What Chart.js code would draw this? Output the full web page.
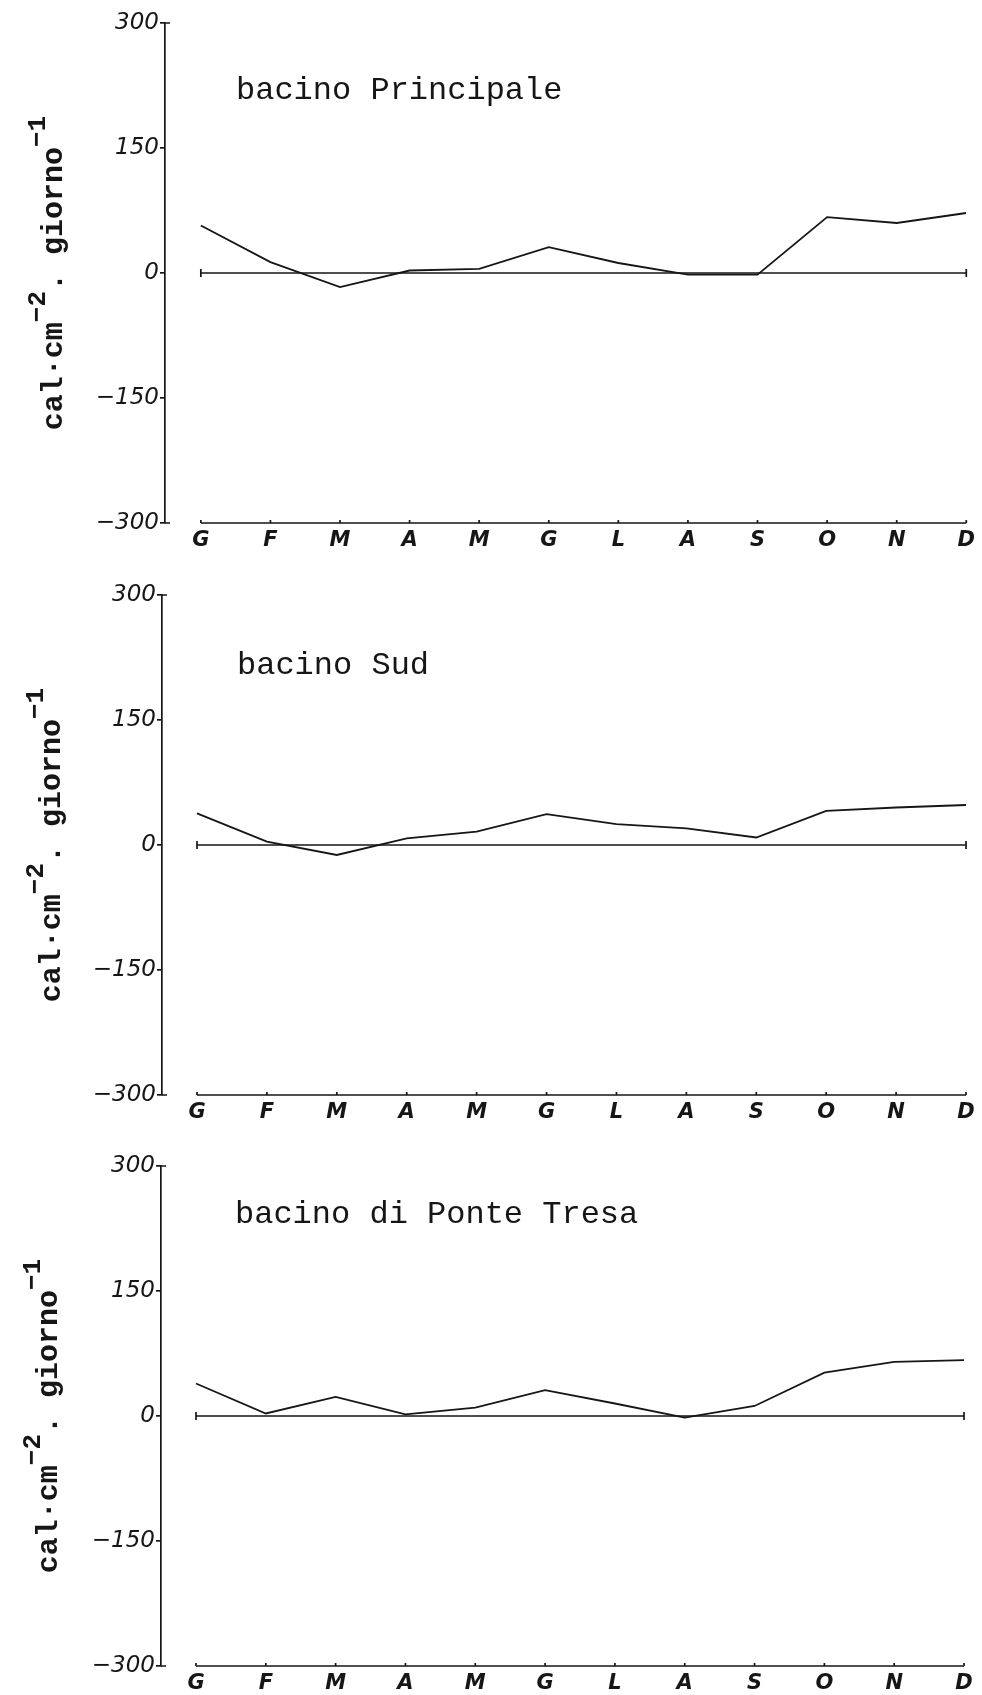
<!DOCTYPE html>
<html>
<head>
<meta charset="utf-8">
<script src="https://cdn.jsdelivr.net/npm/chart.js@4.4.0/dist/chart.umd.min.js"></script>
<style>
  html, body { margin: 0; padding: 0; background: #fff; overflow: hidden; }
  body { width: 982px; height: 1695px; position: relative; }
  canvas { position: absolute; left: 0; }
</style>
</head>
<body>
<canvas id="c1" width="982" height="560" style="top:0px"></canvas>
<canvas id="c2" width="982" height="560" style="top:572px"></canvas>
<canvas id="c3" width="982" height="560" style="top:1143px"></canvas>
<script>
"use strict";
// data (cal cm-2 day-1)
const months = ["G", "F", "M", "A", "M", "G", "L", "A", "S", "O", "N", "D"];
const yTicks = [-300, -150, 0, 150, 300];
const principale = [57, 13, -17, 3, 5, 31, 12, -2, -2, 67, 60, 72];
const sud = [38, 4, -12, 8, 16, 37, 25, 20, 9, 41, 45, 48];
const ponteTresa = [39, 3, 23, 2, 10, 31, 15, -2, 12, 52, 65, 67];
const titles = ["bacino Principale", "bacino Sud", "bacino di Ponte Tresa"];

const ink = "#161616";

// layout of each panel (pixels inside its canvas)
const panels = [
    { id: "c1", values: principale, title: titles[0], axisX: 165, g: 201, right: 970, titleX: 236, titleY: 99, labelX: 62 },
    { id: "c2", values: sud, title: titles[1], axisX: 162, g: 197, right: 966, titleX: 237, titleY: 102, labelX: 60 },
    { id: "c3", values: ponteTresa, title: titles[2], axisX: 161, g: 196, right: 964, titleX: 235, titleY: 80, labelX: 57 }
];

// zero line, bottom month axis, panel title, y-axis title
const decor = {
    id: "decor",
    afterDatasetsDraw(chart, args, opts) {
        const { ctx, chartArea, scales: { x, y } } = chart;
        const xa = x.getPixelForValue(0);
        const xb = x.getPixelForValue(months.length - 1);
        const y0 = y.getPixelForValue(0);
        const yb = y.getPixelForValue(yTicks[0]);
        const yt = y.getPixelForValue(yTicks[yTicks.length - 1]);
        ctx.save();
        ctx.strokeStyle = ink;
        ctx.lineWidth = 1.7;
        ctx.beginPath();
        ctx.moveTo(xa, y0); ctx.lineTo(xb, y0);
        ctx.moveTo(xa, y0 - 4); ctx.lineTo(xa, y0 + 4);
        ctx.moveTo(xb, y0 - 4); ctx.lineTo(xb, y0 + 4);
        ctx.stroke();

        ctx.beginPath();
        ctx.moveTo(xa, yb); ctx.lineTo(xb, yb);
        months.forEach((m, i) => {
            const px = x.getPixelForValue(i);
            ctx.moveTo(px, yb); ctx.lineTo(px, yb - 3);
        });
        // little corner ticks of the y axis
        ctx.moveTo(chartArea.left, yt); ctx.lineTo(chartArea.left + 5, yt);
        ctx.moveTo(chartArea.left, yb); ctx.lineTo(chartArea.left + 5, yb);
        ctx.stroke();

        ctx.fillStyle = ink;
        ctx.textBaseline = "alphabetic";
        ctx.textAlign = "left";
        ctx.font = '32px "Liberation Mono", monospace';
        ctx.fillText(opts.title, opts.titleX, opts.titleY);

        // rotated unit label with superscripts
        const parts = [
            { t: "cal\u00B7cm", sup: false },
            { t: "\u22122", sup: true },
            { t: ".", sup: false },
            { t: " giorno", sup: false },
            { t: "\u22121", sup: true }
        ];
        const mainFont = 'bold 30px "Liberation Mono", monospace';
        const supFont = 'bold 26px "Liberation Mono", monospace';
        let total = 0;
        parts.forEach(p => {
            ctx.font = p.sup ? supFont : mainFont;
            p.w = ctx.measureText(p.t).width;
            total += p.w;
        });
        ctx.translate(opts.labelX, (chartArea.top + chartArea.bottom) / 2);
        ctx.rotate(-Math.PI / 2);
        let cx = -total / 2;
        parts.forEach(p => {
            ctx.font = p.sup ? supFont : mainFont;
            ctx.fillText(p.t, cx, p.sup ? -17 : 0);
            cx += p.w;
        });
        ctx.restore();
    }
};

panels.forEach(p => {
    const unit = (p.right - p.g) / (months.length - 1);
    const xMin = -(p.g - p.axisX) / unit;
    new Chart(document.getElementById(p.id), {
        type: "line",
        data: {
            datasets: [{
                data: p.values.map((v, i) => ({ x: i, y: v })),
                borderColor: ink,
                borderWidth: 1.8,
                pointRadius: 0,
                tension: 0,
                fill: false
            }]
        },
        options: {
            responsive: false,
            animation: false,
            devicePixelRatio: 1,
            layout: { padding: { left: 0, right: 982 - p.right, top: 23, bottom: 0 } },
            plugins: {
                legend: { display: false },
                tooltip: { enabled: false },
                decor: { title: p.title, titleX: p.titleX, titleY: p.titleY, labelX: p.labelX }
            },
            scales: {
                x: {
                    type: "linear",
                    min: xMin,
                    max: months.length - 1,
                    grid: { display: false, drawTicks: false, tickLength: 0 },
                    border: { display: false },
                    afterBuildTicks: s => { s.ticks = months.map((m, i) => ({ value: i })); },
                    afterFit: s => { s.height = 37; },
                    ticks: {
                        autoSkip: false,
                        maxRotation: 0,
                        maxTicksLimit: 30,
                        padding: 7,
                        color: ink,
                        font: { family: "DejaVu Sans", style: "italic", weight: "bold", size: 21, lineHeight: 1 },
                        callback: v => months[v] ?? ""
                    }
                },
                y: {
                    min: yTicks[0],
                    max: yTicks[yTicks.length - 1],
                    afterBuildTicks: s => { s.ticks = yTicks.map(v => ({ value: v })); },
                    afterFit: s => { s.width = p.axisX; },
                    grid: { drawOnChartArea: false, tickLength: 5, color: ink, lineWidth: 1.7 },
                    border: { color: ink, width: 1.7 },
                    ticks: {
                        padding: 1,
                        color: ink,
                        font: { family: "DejaVu Sans", style: "italic", size: 23 },
                        callback: v => v < 0 ? "\u2212" + Math.abs(v) : String(v)
                    }
                }
            }
        },
        plugins: [decor]
    });
});
</script>
</body>
</html>
